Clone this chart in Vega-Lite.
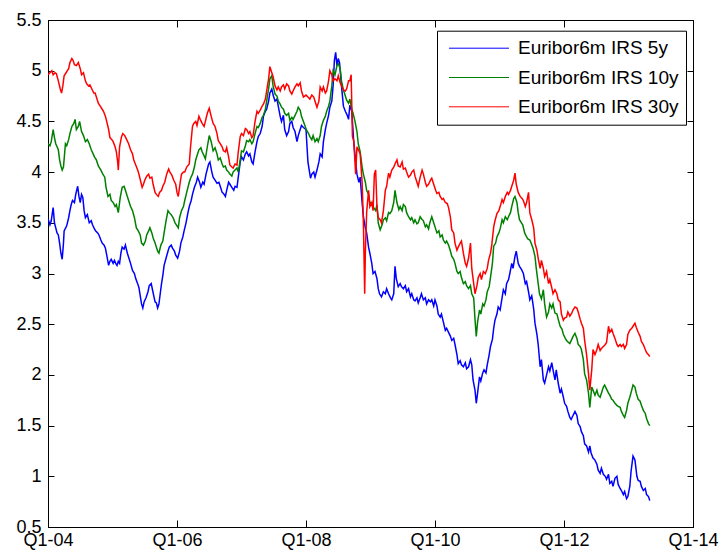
{
  "$schema": "https://vega.github.io/schema/vega-lite/v6.json",
  "width": 645,
  "height": 507,
  "autosize": {"type": "none"},
  "padding": {"left": 48, "top": 20, "right": 28, "bottom": 30},
  "background": "white",
  "config": {
    "view": {"stroke": "black", "strokeWidth": 1},
    "font": "Liberation Sans",
    "axis": {
      "grid": false,
      "domainColor": "black",
      "domainWidth": 1,
      "tickColor": "black",
      "tickWidth": 1,
      "labelColor": "black",
      "labelFont": "Liberation Sans",
      "labelFontSize": 18,
      "labelFlush": false,
      "labelOverlap": false
    }
  },
  "datasets": {
    "irs5": [
      {"t":2004.00,"v":3.54},{"t":2004.03,"v":3.48},{"t":2004.05,"v":3.52},{"t":2004.08,"v":3.65},{"t":2004.10,"v":3.5},{"t":2004.12,"v":3.45},{"t":2004.14,"v":3.4},{"t":2004.16,"v":3.38},{"t":2004.18,"v":3.3},{"t":2004.20,"v":3.2},{"t":2004.22,"v":3.14},{"t":2004.24,"v":3.3},{"t":2004.25,"v":3.42},{"t":2004.29,"v":3.47},{"t":2004.32,"v":3.55},{"t":2004.34,"v":3.62},{"t":2004.36,"v":3.68},{"t":2004.38,"v":3.72},{"t":2004.41,"v":3.7},{"t":2004.43,"v":3.78},{"t":2004.46,"v":3.86},{"t":2004.48,"v":3.76},{"t":2004.50,"v":3.7},{"t":2004.52,"v":3.78},{"t":2004.54,"v":3.75},{"t":2004.56,"v":3.62},{"t":2004.58,"v":3.55},{"t":2004.61,"v":3.58},{"t":2004.64,"v":3.5},{"t":2004.67,"v":3.52},{"t":2004.69,"v":3.48},{"t":2004.72,"v":3.44},{"t":2004.74,"v":3.42},{"t":2004.77,"v":3.4},{"t":2004.79,"v":3.38},{"t":2004.82,"v":3.33},{"t":2004.84,"v":3.3},{"t":2004.87,"v":3.28},{"t":2004.89,"v":3.25},{"t":2004.92,"v":3.15},{"t":2004.94,"v":3.08},{"t":2004.96,"v":3.12},{"t":2004.98,"v":3.14},
      {"t":2005.01,"v":3.1},{"t":2005.03,"v":3.13},{"t":2005.05,"v":3.1},{"t":2005.07,"v":3.08},{"t":2005.09,"v":3.12},{"t":2005.11,"v":3.1},{"t":2005.13,"v":3.2},{"t":2005.15,"v":3.26},{"t":2005.18,"v":3.24},{"t":2005.20,"v":3.28},{"t":2005.23,"v":3.2},{"t":2005.26,"v":3.14},{"t":2005.28,"v":3.1},{"t":2005.31,"v":3.03},{"t":2005.34,"v":3.0},{"t":2005.36,"v":2.95},{"t":2005.39,"v":2.9},{"t":2005.41,"v":2.86},{"t":2005.43,"v":2.78},{"t":2005.45,"v":2.7},{"t":2005.47,"v":2.66},{"t":2005.49,"v":2.72},{"t":2005.52,"v":2.76},{"t":2005.55,"v":2.82},{"t":2005.57,"v":2.88},{"t":2005.60,"v":2.9},{"t":2005.62,"v":2.84},{"t":2005.64,"v":2.78},{"t":2005.66,"v":2.72},{"t":2005.68,"v":2.71},{"t":2005.70,"v":2.66},{"t":2005.72,"v":2.7},{"t":2005.74,"v":2.8},{"t":2005.76,"v":2.9},{"t":2005.78,"v":2.98},{"t":2005.80,"v":3.08},{"t":2005.83,"v":3.15},{"t":2005.86,"v":3.22},{"t":2005.88,"v":3.26},{"t":2005.91,"v":3.28},{"t":2005.93,"v":3.25},{"t":2005.96,"v":3.22},{"t":2005.98,"v":3.18},
      {"t":2006.01,"v":3.15},{"t":2006.04,"v":3.22},{"t":2006.06,"v":3.3},{"t":2006.09,"v":3.36},{"t":2006.11,"v":3.42},{"t":2006.14,"v":3.5},{"t":2006.17,"v":3.6},{"t":2006.19,"v":3.66},{"t":2006.22,"v":3.72},{"t":2006.24,"v":3.78},{"t":2006.27,"v":3.85},{"t":2006.30,"v":3.9},{"t":2006.32,"v":3.95},{"t":2006.35,"v":3.9},{"t":2006.37,"v":3.85},{"t":2006.40,"v":3.9},{"t":2006.42,"v":3.88},{"t":2006.45,"v":3.98},{"t":2006.49,"v":4.08},{"t":2006.51,"v":4.1},{"t":2006.54,"v":4.0},{"t":2006.56,"v":3.95},{"t":2006.59,"v":3.92},{"t":2006.62,"v":3.89},{"t":2006.65,"v":3.9},{"t":2006.67,"v":3.86},{"t":2006.70,"v":3.8},{"t":2006.72,"v":3.79},{"t":2006.75,"v":3.76},{"t":2006.77,"v":3.82},{"t":2006.80,"v":3.9},{"t":2006.82,"v":3.88},{"t":2006.85,"v":3.85},{"t":2006.88,"v":3.82},{"t":2006.90,"v":3.86},{"t":2006.93,"v":3.85},{"t":2006.95,"v":3.95},{"t":2006.98,"v":4.1},
      {"t":2007.00,"v":4.15},{"t":2007.03,"v":4.12},{"t":2007.06,"v":4.18},{"t":2007.08,"v":4.2},{"t":2007.11,"v":4.16},{"t":2007.13,"v":4.18},{"t":2007.16,"v":4.1},{"t":2007.18,"v":4.08},{"t":2007.21,"v":4.2},{"t":2007.24,"v":4.3},{"t":2007.26,"v":4.35},{"t":2007.29,"v":4.38},{"t":2007.32,"v":4.45},{"t":2007.34,"v":4.55},{"t":2007.37,"v":4.6},{"t":2007.39,"v":4.62},{"t":2007.42,"v":4.7},{"t":2007.44,"v":4.78},{"t":2007.47,"v":4.82},{"t":2007.49,"v":4.76},{"t":2007.52,"v":4.7},{"t":2007.55,"v":4.72},{"t":2007.57,"v":4.65},{"t":2007.60,"v":4.55},{"t":2007.62,"v":4.5},{"t":2007.65,"v":4.56},{"t":2007.67,"v":4.42},{"t":2007.70,"v":4.36},{"t":2007.73,"v":4.4},{"t":2007.75,"v":4.48},{"t":2007.78,"v":4.5},{"t":2007.80,"v":4.44},{"t":2007.83,"v":4.4},{"t":2007.86,"v":4.3},{"t":2007.88,"v":4.36},{"t":2007.91,"v":4.42},{"t":2007.93,"v":4.46},{"t":2007.96,"v":4.44},
      {"t":2008.00,"v":4.42},{"t":2008.03,"v":4.1},{"t":2008.05,"v":4.02},{"t":2008.07,"v":3.94},{"t":2008.09,"v":3.98},{"t":2008.12,"v":4.0},{"t":2008.14,"v":3.95},{"t":2008.17,"v":4.02},{"t":2008.20,"v":4.1},{"t":2008.22,"v":4.18},{"t":2008.25,"v":4.15},{"t":2008.27,"v":4.3},{"t":2008.30,"v":4.42},{"t":2008.32,"v":4.48},{"t":2008.35,"v":4.56},{"t":2008.37,"v":4.64},{"t":2008.40,"v":4.7},{"t":2008.42,"v":4.85},{"t":2008.44,"v":5.1},{"t":2008.46,"v":5.18},{"t":2008.48,"v":5.05},{"t":2008.50,"v":5.12},{"t":2008.52,"v":5.08},{"t":2008.55,"v":4.85},{"t":2008.58,"v":4.65},{"t":2008.61,"v":4.6},{"t":2008.64,"v":4.56},{"t":2008.66,"v":4.52},{"t":2008.68,"v":4.66},{"t":2008.71,"v":4.6},{"t":2008.74,"v":4.3},{"t":2008.77,"v":4.1},{"t":2008.79,"v":3.98},{"t":2008.82,"v":3.9},{"t":2008.84,"v":3.95},{"t":2008.87,"v":3.7},{"t":2008.89,"v":3.56},{"t":2008.92,"v":3.45},{"t":2008.94,"v":3.4},{"t":2008.97,"v":3.26},{"t":2008.99,"v":3.2},
      {"t":2009.02,"v":3.1},{"t":2009.04,"v":3.0},{"t":2009.07,"v":3.02},{"t":2009.10,"v":2.95},{"t":2009.12,"v":2.85},{"t":2009.14,"v":2.8},{"t":2009.17,"v":2.77},{"t":2009.20,"v":2.82},{"t":2009.23,"v":2.8},{"t":2009.25,"v":2.85},{"t":2009.28,"v":2.8},{"t":2009.31,"v":2.76},{"t":2009.33,"v":2.74},{"t":2009.36,"v":2.8},{"t":2009.38,"v":3.07},{"t":2009.40,"v":2.95},{"t":2009.43,"v":2.87},{"t":2009.46,"v":2.9},{"t":2009.48,"v":2.87},{"t":2009.51,"v":2.85},{"t":2009.54,"v":2.88},{"t":2009.56,"v":2.82},{"t":2009.59,"v":2.85},{"t":2009.62,"v":2.77},{"t":2009.64,"v":2.8},{"t":2009.67,"v":2.74},{"t":2009.69,"v":2.73},{"t":2009.72,"v":2.76},{"t":2009.74,"v":2.71},{"t":2009.77,"v":2.76},{"t":2009.79,"v":2.8},{"t":2009.82,"v":2.74},{"t":2009.85,"v":2.76},{"t":2009.87,"v":2.7},{"t":2009.90,"v":2.74},{"t":2009.93,"v":2.72},{"t":2009.95,"v":2.74},{"t":2009.98,"v":2.68},
      {"t":2010.00,"v":2.74},{"t":2010.03,"v":2.68},{"t":2010.05,"v":2.6},{"t":2010.08,"v":2.57},{"t":2010.10,"v":2.6},{"t":2010.13,"v":2.52},{"t":2010.16,"v":2.44},{"t":2010.18,"v":2.46},{"t":2010.21,"v":2.42},{"t":2010.24,"v":2.38},{"t":2010.26,"v":2.34},{"t":2010.29,"v":2.36},{"t":2010.31,"v":2.3},{"t":2010.34,"v":2.2},{"t":2010.36,"v":2.11},{"t":2010.39,"v":2.14},{"t":2010.41,"v":2.1},{"t":2010.44,"v":2.08},{"t":2010.47,"v":2.12},{"t":2010.49,"v":2.06},{"t":2010.52,"v":2.08},{"t":2010.55,"v":2.15},{"t":2010.57,"v":2.1},{"t":2010.59,"v":1.95},{"t":2010.62,"v":1.85},{"t":2010.64,"v":1.72},{"t":2010.66,"v":1.82},{"t":2010.69,"v":1.98},{"t":2010.71,"v":1.94},{"t":2010.74,"v":2.02},{"t":2010.76,"v":2.05},{"t":2010.79,"v":2.02},{"t":2010.81,"v":2.1},{"t":2010.84,"v":2.2},{"t":2010.86,"v":2.28},{"t":2010.89,"v":2.35},{"t":2010.91,"v":2.46},{"t":2010.93,"v":2.54},{"t":2010.96,"v":2.6},{"t":2010.98,"v":2.67},
      {"t":2011.01,"v":2.64},{"t":2011.03,"v":2.72},{"t":2011.06,"v":2.84},{"t":2011.09,"v":2.8},{"t":2011.11,"v":2.9},{"t":2011.14,"v":2.94},{"t":2011.16,"v":3.0},{"t":2011.19,"v":3.1},{"t":2011.21,"v":3.05},{"t":2011.24,"v":3.17},{"t":2011.26,"v":3.22},{"t":2011.29,"v":3.1},{"t":2011.31,"v":3.07},{"t":2011.34,"v":3.04},{"t":2011.37,"v":3.0},{"t":2011.40,"v":2.9},{"t":2011.42,"v":2.92},{"t":2011.45,"v":2.82},{"t":2011.47,"v":2.74},{"t":2011.50,"v":2.78},{"t":2011.53,"v":2.65},{"t":2011.55,"v":2.51},{"t":2011.58,"v":2.4},{"t":2011.60,"v":2.3},{"t":2011.63,"v":2.08},{"t":2011.65,"v":2.15},{"t":2011.68,"v":1.95},{"t":2011.70,"v":1.92},{"t":2011.73,"v":2.0},{"t":2011.76,"v":2.08},{"t":2011.78,"v":2.04},{"t":2011.81,"v":2.12},{"t":2011.83,"v":2.05},{"t":2011.86,"v":1.95},{"t":2011.88,"v":2.05},{"t":2011.91,"v":1.92},{"t":2011.94,"v":1.82},{"t":2011.96,"v":1.86},{"t":2011.99,"v":1.78},
      {"t":2012.01,"v":1.72},{"t":2012.04,"v":1.69},{"t":2012.06,"v":1.64},{"t":2012.09,"v":1.58},{"t":2012.11,"v":1.56},{"t":2012.14,"v":1.6},{"t":2012.17,"v":1.64},{"t":2012.20,"v":1.6},{"t":2012.22,"v":1.52},{"t":2012.25,"v":1.49},{"t":2012.27,"v":1.44},{"t":2012.30,"v":1.4},{"t":2012.32,"v":1.32},{"t":2012.35,"v":1.3},{"t":2012.38,"v":1.24},{"t":2012.40,"v":1.3},{"t":2012.42,"v":1.23},{"t":2012.45,"v":1.18},{"t":2012.48,"v":1.16},{"t":2012.51,"v":1.12},{"t":2012.53,"v":1.06},{"t":2012.56,"v":1.03},{"t":2012.58,"v":1.08},{"t":2012.61,"v":1.02},{"t":2012.64,"v":1.0},{"t":2012.66,"v":0.97},{"t":2012.69,"v":1.02},{"t":2012.71,"v":0.93},{"t":2012.74,"v":0.95},{"t":2012.76,"v":0.9},{"t":2012.79,"v":0.98},{"t":2012.82,"v":1.0},{"t":2012.84,"v":0.92},{"t":2012.87,"v":0.88},{"t":2012.89,"v":0.86},{"t":2012.92,"v":0.82},{"t":2012.94,"v":0.85},{"t":2012.97,"v":0.78},{"t":2012.99,"v":0.8},
      {"t":2013.02,"v":0.9},{"t":2013.04,"v":1.05},{"t":2013.07,"v":1.2},{"t":2013.10,"v":1.16},{"t":2013.13,"v":1.0},{"t":2013.15,"v":0.96},{"t":2013.18,"v":0.95},{"t":2013.20,"v":0.9},{"t":2013.23,"v":0.86},{"t":2013.26,"v":0.88},{"t":2013.28,"v":0.82},{"t":2013.31,"v":0.8},{"t":2013.33,"v":0.76}
    ],
    "irs10": [
      {"t":2004.00,"v":4.28},{"t":2004.03,"v":4.26},{"t":2004.05,"v":4.3},{"t":2004.08,"v":4.42},{"t":2004.10,"v":4.34},{"t":2004.12,"v":4.28},{"t":2004.14,"v":4.25},{"t":2004.16,"v":4.22},{"t":2004.18,"v":4.12},{"t":2004.20,"v":4.06},{"t":2004.22,"v":4.02},{"t":2004.24,"v":4.05},{"t":2004.27,"v":4.28},{"t":2004.29,"v":4.26},{"t":2004.32,"v":4.32},{"t":2004.34,"v":4.38},{"t":2004.37,"v":4.45},{"t":2004.40,"v":4.48},{"t":2004.42,"v":4.52},{"t":2004.44,"v":4.42},{"t":2004.47,"v":4.45},{"t":2004.49,"v":4.5},{"t":2004.52,"v":4.4},{"t":2004.55,"v":4.36},{"t":2004.58,"v":4.3},{"t":2004.61,"v":4.32},{"t":2004.64,"v":4.28},{"t":2004.67,"v":4.22},{"t":2004.70,"v":4.18},{"t":2004.72,"v":4.15},{"t":2004.75,"v":4.12},{"t":2004.78,"v":4.06},{"t":2004.82,"v":4.02},{"t":2004.85,"v":3.98},{"t":2004.88,"v":3.95},{"t":2004.90,"v":3.85},{"t":2004.93,"v":3.76},{"t":2004.96,"v":3.78},{"t":2004.98,"v":3.72},
      {"t":2005.01,"v":3.7},{"t":2005.04,"v":3.66},{"t":2005.06,"v":3.68},{"t":2005.09,"v":3.6},{"t":2005.12,"v":3.75},{"t":2005.15,"v":3.85},{"t":2005.18,"v":3.86},{"t":2005.20,"v":3.82},{"t":2005.23,"v":3.76},{"t":2005.26,"v":3.7},{"t":2005.28,"v":3.66},{"t":2005.31,"v":3.62},{"t":2005.34,"v":3.55},{"t":2005.37,"v":3.45},{"t":2005.40,"v":3.42},{"t":2005.43,"v":3.38},{"t":2005.45,"v":3.3},{"t":2005.48,"v":3.28},{"t":2005.51,"v":3.32},{"t":2005.53,"v":3.38},{"t":2005.56,"v":3.42},{"t":2005.58,"v":3.45},{"t":2005.61,"v":3.4},{"t":2005.63,"v":3.35},{"t":2005.66,"v":3.3},{"t":2005.70,"v":3.22},{"t":2005.72,"v":3.2},{"t":2005.75,"v":3.28},{"t":2005.78,"v":3.32},{"t":2005.80,"v":3.4},{"t":2005.83,"v":3.52},{"t":2005.86,"v":3.62},{"t":2005.88,"v":3.6},{"t":2005.91,"v":3.58},{"t":2005.94,"v":3.55},{"t":2005.97,"v":3.5},{"t":2005.99,"v":3.48},
      {"t":2006.02,"v":3.45},{"t":2006.04,"v":3.55},{"t":2006.07,"v":3.62},{"t":2006.10,"v":3.66},{"t":2006.12,"v":3.72},{"t":2006.15,"v":3.8},{"t":2006.19,"v":3.9},{"t":2006.21,"v":3.94},{"t":2006.24,"v":3.98},{"t":2006.27,"v":4.05},{"t":2006.29,"v":4.12},{"t":2006.32,"v":4.18},{"t":2006.34,"v":4.22},{"t":2006.37,"v":4.24},{"t":2006.39,"v":4.2},{"t":2006.42,"v":4.16},{"t":2006.44,"v":4.13},{"t":2006.47,"v":4.25},{"t":2006.50,"v":4.36},{"t":2006.53,"v":4.3},{"t":2006.56,"v":4.21},{"t":2006.59,"v":4.24},{"t":2006.62,"v":4.18},{"t":2006.64,"v":4.12},{"t":2006.67,"v":4.14},{"t":2006.70,"v":4.08},{"t":2006.72,"v":4.05},{"t":2006.75,"v":4.06},{"t":2006.77,"v":4.02},{"t":2006.80,"v":4.0},{"t":2006.82,"v":3.98},{"t":2006.85,"v":3.96},{"t":2006.87,"v":4.0},{"t":2006.90,"v":4.02},{"t":2006.93,"v":4.04},{"t":2006.95,"v":4.0},{"t":2006.98,"v":4.12},
      {"t":2007.00,"v":4.21},{"t":2007.03,"v":4.2},{"t":2007.06,"v":4.26},{"t":2007.08,"v":4.31},{"t":2007.11,"v":4.3},{"t":2007.13,"v":4.32},{"t":2007.16,"v":4.28},{"t":2007.18,"v":4.3},{"t":2007.21,"v":4.38},{"t":2007.24,"v":4.45},{"t":2007.26,"v":4.44},{"t":2007.29,"v":4.48},{"t":2007.32,"v":4.54},{"t":2007.34,"v":4.56},{"t":2007.37,"v":4.62},{"t":2007.39,"v":4.7},{"t":2007.42,"v":4.82},{"t":2007.44,"v":4.92},{"t":2007.47,"v":4.95},{"t":2007.49,"v":4.85},{"t":2007.52,"v":4.77},{"t":2007.55,"v":4.75},{"t":2007.57,"v":4.7},{"t":2007.60,"v":4.67},{"t":2007.62,"v":4.64},{"t":2007.65,"v":4.62},{"t":2007.67,"v":4.58},{"t":2007.70,"v":4.56},{"t":2007.73,"v":4.58},{"t":2007.75,"v":4.51},{"t":2007.78,"v":4.54},{"t":2007.80,"v":4.52},{"t":2007.83,"v":4.56},{"t":2007.86,"v":4.6},{"t":2007.88,"v":4.64},{"t":2007.91,"v":4.61},{"t":2007.93,"v":4.55},{"t":2007.96,"v":4.5},
      {"t":2008.01,"v":4.41},{"t":2008.04,"v":4.38},{"t":2008.06,"v":4.35},{"t":2008.09,"v":4.32},{"t":2008.11,"v":4.36},{"t":2008.14,"v":4.3},{"t":2008.17,"v":4.33},{"t":2008.19,"v":4.3},{"t":2008.22,"v":4.36},{"t":2008.24,"v":4.45},{"t":2008.27,"v":4.51},{"t":2008.30,"v":4.55},{"t":2008.32,"v":4.6},{"t":2008.35,"v":4.65},{"t":2008.37,"v":4.7},{"t":2008.40,"v":4.85},{"t":2008.42,"v":5.0},{"t":2008.45,"v":4.96},{"t":2008.48,"v":5.05},{"t":2008.50,"v":5.07},{"t":2008.53,"v":5.02},{"t":2008.55,"v":4.9},{"t":2008.58,"v":4.81},{"t":2008.61,"v":4.75},{"t":2008.63,"v":4.71},{"t":2008.66,"v":4.68},{"t":2008.68,"v":4.72},{"t":2008.71,"v":4.62},{"t":2008.73,"v":4.58},{"t":2008.76,"v":4.5},{"t":2008.79,"v":4.4},{"t":2008.81,"v":4.28},{"t":2008.84,"v":4.2},{"t":2008.87,"v":4.05},{"t":2008.89,"v":3.98},{"t":2008.92,"v":3.9},{"t":2008.94,"v":3.82},{"t":2008.97,"v":3.78},{"t":2008.99,"v":3.7},
      {"t":2009.02,"v":3.69},{"t":2009.05,"v":3.65},{"t":2009.08,"v":3.62},{"t":2009.10,"v":3.68},{"t":2009.12,"v":3.5},{"t":2009.15,"v":3.43},{"t":2009.18,"v":3.48},{"t":2009.20,"v":3.53},{"t":2009.23,"v":3.55},{"t":2009.25,"v":3.52},{"t":2009.28,"v":3.6},{"t":2009.30,"v":3.59},{"t":2009.33,"v":3.62},{"t":2009.36,"v":3.7},{"t":2009.38,"v":3.82},{"t":2009.41,"v":3.7},{"t":2009.44,"v":3.63},{"t":2009.46,"v":3.66},{"t":2009.49,"v":3.62},{"t":2009.51,"v":3.68},{"t":2009.54,"v":3.66},{"t":2009.56,"v":3.6},{"t":2009.59,"v":3.56},{"t":2009.62,"v":3.53},{"t":2009.64,"v":3.55},{"t":2009.67,"v":3.5},{"t":2009.69,"v":3.53},{"t":2009.72,"v":3.49},{"t":2009.74,"v":3.5},{"t":2009.77,"v":3.56},{"t":2009.79,"v":3.54},{"t":2009.82,"v":3.52},{"t":2009.85,"v":3.46},{"t":2009.87,"v":3.48},{"t":2009.90,"v":3.44},{"t":2009.92,"v":3.5},{"t":2009.95,"v":3.56},{"t":2009.98,"v":3.5},
      {"t":2010.01,"v":3.44},{"t":2010.03,"v":3.4},{"t":2010.06,"v":3.42},{"t":2010.08,"v":3.36},{"t":2010.11,"v":3.38},{"t":2010.13,"v":3.33},{"t":2010.16,"v":3.3},{"t":2010.18,"v":3.32},{"t":2010.21,"v":3.28},{"t":2010.24,"v":3.22},{"t":2010.26,"v":3.17},{"t":2010.29,"v":3.14},{"t":2010.31,"v":3.1},{"t":2010.34,"v":3.02},{"t":2010.36,"v":3.0},{"t":2010.39,"v":3.02},{"t":2010.41,"v":2.96},{"t":2010.44,"v":2.9},{"t":2010.47,"v":2.92},{"t":2010.49,"v":2.88},{"t":2010.52,"v":2.85},{"t":2010.55,"v":2.88},{"t":2010.57,"v":2.8},{"t":2010.60,"v":2.76},{"t":2010.62,"v":2.55},{"t":2010.64,"v":2.38},{"t":2010.66,"v":2.52},{"t":2010.69,"v":2.64},{"t":2010.71,"v":2.6},{"t":2010.74,"v":2.7},{"t":2010.76,"v":2.68},{"t":2010.79,"v":2.74},{"t":2010.81,"v":2.82},{"t":2010.84,"v":2.87},{"t":2010.86,"v":2.96},{"t":2010.89,"v":3.1},{"t":2010.91,"v":3.27},{"t":2010.94,"v":3.3},{"t":2010.96,"v":3.36},{"t":2010.99,"v":3.4},
      {"t":2011.01,"v":3.44},{"t":2011.04,"v":3.53},{"t":2011.06,"v":3.5},{"t":2011.09,"v":3.56},{"t":2011.12,"v":3.53},{"t":2011.14,"v":3.56},{"t":2011.17,"v":3.6},{"t":2011.19,"v":3.66},{"t":2011.22,"v":3.74},{"t":2011.24,"v":3.76},{"t":2011.27,"v":3.7},{"t":2011.29,"v":3.6},{"t":2011.31,"v":3.53},{"t":2011.34,"v":3.5},{"t":2011.36,"v":3.48},{"t":2011.39,"v":3.4},{"t":2011.42,"v":3.36},{"t":2011.44,"v":3.34},{"t":2011.47,"v":3.33},{"t":2011.49,"v":3.3},{"t":2011.52,"v":3.25},{"t":2011.55,"v":3.17},{"t":2011.57,"v":3.05},{"t":2011.60,"v":2.9},{"t":2011.62,"v":2.8},{"t":2011.65,"v":2.75},{"t":2011.68,"v":2.84},{"t":2011.70,"v":2.7},{"t":2011.73,"v":2.57},{"t":2011.76,"v":2.62},{"t":2011.78,"v":2.7},{"t":2011.81,"v":2.66},{"t":2011.83,"v":2.7},{"t":2011.86,"v":2.61},{"t":2011.89,"v":2.6},{"t":2011.91,"v":2.55},{"t":2011.94,"v":2.48},{"t":2011.97,"v":2.45},{"t":2011.99,"v":2.4},
      {"t":2012.02,"v":2.36},{"t":2012.04,"v":2.34},{"t":2012.07,"v":2.32},{"t":2012.09,"v":2.31},{"t":2012.12,"v":2.35},{"t":2012.14,"v":2.38},{"t":2012.17,"v":2.41},{"t":2012.20,"v":2.36},{"t":2012.22,"v":2.3},{"t":2012.25,"v":2.28},{"t":2012.27,"v":2.25},{"t":2012.30,"v":2.15},{"t":2012.32,"v":2.01},{"t":2012.35,"v":1.95},{"t":2012.38,"v":1.82},{"t":2012.40,"v":1.68},{"t":2012.43,"v":1.88},{"t":2012.45,"v":1.85},{"t":2012.48,"v":1.8},{"t":2012.51,"v":1.85},{"t":2012.53,"v":1.8},{"t":2012.56,"v":1.78},{"t":2012.58,"v":1.82},{"t":2012.61,"v":1.88},{"t":2012.63,"v":1.9},{"t":2012.66,"v":1.86},{"t":2012.69,"v":1.82},{"t":2012.71,"v":1.8},{"t":2012.74,"v":1.76},{"t":2012.76,"v":1.75},{"t":2012.79,"v":1.72},{"t":2012.82,"v":1.7},{"t":2012.84,"v":1.69},{"t":2012.87,"v":1.68},{"t":2012.89,"v":1.64},{"t":2012.92,"v":1.6},{"t":2012.94,"v":1.58},{"t":2012.97,"v":1.65},{"t":2012.99,"v":1.72},
      {"t":2013.02,"v":1.78},{"t":2013.05,"v":1.85},{"t":2013.07,"v":1.9},{"t":2013.10,"v":1.88},{"t":2013.12,"v":1.82},{"t":2013.15,"v":1.76},{"t":2013.18,"v":1.74},{"t":2013.20,"v":1.7},{"t":2013.23,"v":1.65},{"t":2013.26,"v":1.62},{"t":2013.28,"v":1.57},{"t":2013.31,"v":1.52},{"t":2013.33,"v":1.5}
    ],
    "irs30": [
      {"t":2004.00,"v":4.96},{"t":2004.03,"v":4.98},{"t":2004.06,"v":5.0},{"t":2004.08,"v":4.96},{"t":2004.11,"v":4.98},{"t":2004.13,"v":4.97},{"t":2004.16,"v":4.9},{"t":2004.19,"v":4.82},{"t":2004.21,"v":4.78},{"t":2004.23,"v":4.85},{"t":2004.25,"v":4.95},{"t":2004.28,"v":4.98},{"t":2004.30,"v":5.0},{"t":2004.32,"v":5.02},{"t":2004.34,"v":5.08},{"t":2004.37,"v":5.12},{"t":2004.39,"v":5.1},{"t":2004.41,"v":5.06},{"t":2004.44,"v":5.05},{"t":2004.47,"v":5.08},{"t":2004.50,"v":5.02},{"t":2004.52,"v":4.96},{"t":2004.55,"v":4.98},{"t":2004.58,"v":4.9},{"t":2004.60,"v":4.87},{"t":2004.63,"v":4.85},{"t":2004.65,"v":4.86},{"t":2004.68,"v":4.82},{"t":2004.71,"v":4.78},{"t":2004.73,"v":4.78},{"t":2004.76,"v":4.72},{"t":2004.78,"v":4.68},{"t":2004.81,"v":4.65},{"t":2004.84,"v":4.62},{"t":2004.86,"v":4.6},{"t":2004.89,"v":4.55},{"t":2004.91,"v":4.5},{"t":2004.94,"v":4.42},{"t":2004.96,"v":4.34},{"t":2004.99,"v":4.32},
      {"t":2005.01,"v":4.3},{"t":2005.04,"v":4.25},{"t":2005.06,"v":4.2},{"t":2005.08,"v":4.1},{"t":2005.09,"v":4.02},{"t":2005.11,"v":4.25},{"t":2005.14,"v":4.35},{"t":2005.16,"v":4.38},{"t":2005.19,"v":4.36},{"t":2005.22,"v":4.32},{"t":2005.25,"v":4.28},{"t":2005.28,"v":4.22},{"t":2005.31,"v":4.18},{"t":2005.33,"v":4.12},{"t":2005.36,"v":4.07},{"t":2005.39,"v":4.02},{"t":2005.41,"v":3.98},{"t":2005.44,"v":3.9},{"t":2005.46,"v":3.85},{"t":2005.48,"v":3.88},{"t":2005.50,"v":3.92},{"t":2005.53,"v":3.96},{"t":2005.56,"v":3.98},{"t":2005.58,"v":3.94},{"t":2005.61,"v":3.95},{"t":2005.63,"v":3.88},{"t":2005.66,"v":3.8},{"t":2005.68,"v":3.78},{"t":2005.71,"v":3.76},{"t":2005.73,"v":3.8},{"t":2005.76,"v":3.82},{"t":2005.78,"v":3.86},{"t":2005.81,"v":3.9},{"t":2005.84,"v":3.98},{"t":2005.87,"v":4.03},{"t":2005.89,"v":4.0},{"t":2005.92,"v":3.97},{"t":2005.95,"v":3.92},{"t":2005.98,"v":3.88},
      {"t":2006.00,"v":3.8},{"t":2006.02,"v":3.76},{"t":2006.05,"v":3.9},{"t":2006.07,"v":3.98},{"t":2006.10,"v":4.0},{"t":2006.12,"v":4.0},{"t":2006.15,"v":4.05},{"t":2006.19,"v":4.08},{"t":2006.21,"v":4.25},{"t":2006.24,"v":4.45},{"t":2006.26,"v":4.48},{"t":2006.29,"v":4.5},{"t":2006.31,"v":4.46},{"t":2006.34,"v":4.55},{"t":2006.36,"v":4.52},{"t":2006.39,"v":4.48},{"t":2006.42,"v":4.45},{"t":2006.44,"v":4.5},{"t":2006.47,"v":4.58},{"t":2006.50,"v":4.63},{"t":2006.53,"v":4.55},{"t":2006.56,"v":4.48},{"t":2006.59,"v":4.45},{"t":2006.62,"v":4.38},{"t":2006.64,"v":4.31},{"t":2006.67,"v":4.28},{"t":2006.70,"v":4.25},{"t":2006.72,"v":4.21},{"t":2006.75,"v":4.2},{"t":2006.77,"v":4.24},{"t":2006.80,"v":4.15},{"t":2006.82,"v":4.07},{"t":2006.85,"v":4.05},{"t":2006.87,"v":4.04},{"t":2006.90,"v":4.08},{"t":2006.93,"v":4.07},{"t":2006.95,"v":4.2},{"t":2006.98,"v":4.35},
      {"t":2007.00,"v":4.38},{"t":2007.03,"v":4.36},{"t":2007.06,"v":4.43},{"t":2007.08,"v":4.42},{"t":2007.11,"v":4.38},{"t":2007.13,"v":4.4},{"t":2007.16,"v":4.34},{"t":2007.18,"v":4.36},{"t":2007.21,"v":4.5},{"t":2007.24,"v":4.6},{"t":2007.26,"v":4.58},{"t":2007.29,"v":4.61},{"t":2007.32,"v":4.65},{"t":2007.34,"v":4.67},{"t":2007.37,"v":4.72},{"t":2007.39,"v":4.8},{"t":2007.42,"v":4.92},{"t":2007.44,"v":5.04},{"t":2007.47,"v":4.98},{"t":2007.49,"v":4.94},{"t":2007.52,"v":4.85},{"t":2007.55,"v":4.81},{"t":2007.57,"v":4.84},{"t":2007.60,"v":4.8},{"t":2007.62,"v":4.84},{"t":2007.65,"v":4.86},{"t":2007.67,"v":4.82},{"t":2007.70,"v":4.87},{"t":2007.73,"v":4.85},{"t":2007.75,"v":4.8},{"t":2007.78,"v":4.77},{"t":2007.80,"v":4.8},{"t":2007.83,"v":4.84},{"t":2007.86,"v":4.87},{"t":2007.88,"v":4.85},{"t":2007.91,"v":4.88},{"t":2007.93,"v":4.8},{"t":2007.96,"v":4.74},
      {"t":2008.00,"v":4.76},{"t":2008.03,"v":4.74},{"t":2008.06,"v":4.72},{"t":2008.09,"v":4.76},{"t":2008.12,"v":4.74},{"t":2008.15,"v":4.68},{"t":2008.17,"v":4.64},{"t":2008.20,"v":4.7},{"t":2008.22,"v":4.84},{"t":2008.25,"v":4.8},{"t":2008.27,"v":4.84},{"t":2008.30,"v":4.78},{"t":2008.32,"v":4.8},{"t":2008.35,"v":4.9},{"t":2008.37,"v":5.0},{"t":2008.40,"v":4.96},{"t":2008.42,"v":4.9},{"t":2008.45,"v":4.92},{"t":2008.48,"v":4.9},{"t":2008.50,"v":4.95},{"t":2008.53,"v":4.88},{"t":2008.55,"v":4.85},{"t":2008.58,"v":4.81},{"t":2008.61,"v":4.8},{"t":2008.63,"v":4.82},{"t":2008.66,"v":4.9},{"t":2008.68,"v":4.9},{"t":2008.70,"v":4.96},{"t":2008.72,"v":4.35},{"t":2008.74,"v":4.31},{"t":2008.77,"v":3.98},{"t":2008.79,"v":4.25},{"t":2008.82,"v":4.21},{"t":2008.84,"v":4.18},{"t":2008.87,"v":3.9},{"t":2008.89,"v":3.5},{"t":2008.91,"v":2.8},{"t":2008.92,"v":3.2},{"t":2008.94,"v":3.6},{"t":2008.97,"v":3.82},{"t":2008.99,"v":3.66},
      {"t":2009.02,"v":3.7},{"t":2009.04,"v":3.62},{"t":2009.06,"v":3.98},{"t":2009.08,"v":4.02},{"t":2009.10,"v":3.66},{"t":2009.12,"v":3.55},{"t":2009.15,"v":3.53},{"t":2009.17,"v":3.5},{"t":2009.20,"v":3.62},{"t":2009.23,"v":3.82},{"t":2009.25,"v":3.86},{"t":2009.28,"v":3.99},{"t":2009.30,"v":3.95},{"t":2009.33,"v":4.02},{"t":2009.36,"v":4.05},{"t":2009.38,"v":4.08},{"t":2009.41,"v":4.12},{"t":2009.43,"v":4.06},{"t":2009.46,"v":4.05},{"t":2009.49,"v":4.1},{"t":2009.51,"v":4.03},{"t":2009.54,"v":4.04},{"t":2009.56,"v":4.0},{"t":2009.59,"v":3.95},{"t":2009.62,"v":3.97},{"t":2009.64,"v":4.0},{"t":2009.67,"v":4.02},{"t":2009.69,"v":3.96},{"t":2009.72,"v":3.9},{"t":2009.74,"v":3.86},{"t":2009.77,"v":3.95},{"t":2009.80,"v":4.02},{"t":2009.82,"v":3.98},{"t":2009.85,"v":3.9},{"t":2009.87,"v":3.86},{"t":2009.90,"v":3.88},{"t":2009.93,"v":3.92},{"t":2009.95,"v":3.94},{"t":2009.98,"v":3.88},
      {"t":2010.01,"v":3.82},{"t":2010.03,"v":3.79},{"t":2010.06,"v":3.8},{"t":2010.08,"v":3.76},{"t":2010.11,"v":3.73},{"t":2010.13,"v":3.74},{"t":2010.16,"v":3.7},{"t":2010.19,"v":3.69},{"t":2010.21,"v":3.65},{"t":2010.24,"v":3.55},{"t":2010.26,"v":3.43},{"t":2010.29,"v":3.4},{"t":2010.31,"v":3.3},{"t":2010.34,"v":3.23},{"t":2010.36,"v":3.26},{"t":2010.39,"v":3.3},{"t":2010.41,"v":3.32},{"t":2010.44,"v":3.2},{"t":2010.47,"v":3.1},{"t":2010.49,"v":3.07},{"t":2010.52,"v":3.15},{"t":2010.55,"v":3.3},{"t":2010.57,"v":3.05},{"t":2010.60,"v":2.9},{"t":2010.62,"v":2.8},{"t":2010.65,"v":2.88},{"t":2010.67,"v":2.96},{"t":2010.70,"v":3.0},{"t":2010.72,"v":2.94},{"t":2010.75,"v":3.02},{"t":2010.78,"v":3.0},{"t":2010.81,"v":3.05},{"t":2010.83,"v":3.13},{"t":2010.86,"v":3.2},{"t":2010.88,"v":3.28},{"t":2010.91,"v":3.46},{"t":2010.93,"v":3.52},{"t":2010.96,"v":3.59},{"t":2010.99,"v":3.62},
      {"t":2011.01,"v":3.66},{"t":2011.04,"v":3.73},{"t":2011.06,"v":3.7},{"t":2011.09,"v":3.76},{"t":2011.12,"v":3.8},{"t":2011.14,"v":3.78},{"t":2011.17,"v":3.82},{"t":2011.19,"v":3.86},{"t":2011.22,"v":3.92},{"t":2011.24,"v":3.99},{"t":2011.26,"v":3.88},{"t":2011.29,"v":3.8},{"t":2011.32,"v":3.76},{"t":2011.35,"v":3.74},{"t":2011.37,"v":3.72},{"t":2011.40,"v":3.66},{"t":2011.42,"v":3.7},{"t":2011.45,"v":3.8},{"t":2011.47,"v":3.6},{"t":2011.50,"v":3.53},{"t":2011.53,"v":3.45},{"t":2011.55,"v":3.3},{"t":2011.58,"v":3.23},{"t":2011.60,"v":3.15},{"t":2011.63,"v":3.05},{"t":2011.65,"v":3.13},{"t":2011.68,"v":3.05},{"t":2011.70,"v":2.97},{"t":2011.73,"v":3.02},{"t":2011.76,"v":2.9},{"t":2011.78,"v":2.94},{"t":2011.81,"v":2.86},{"t":2011.83,"v":2.8},{"t":2011.86,"v":2.84},{"t":2011.89,"v":2.8},{"t":2011.91,"v":2.74},{"t":2011.94,"v":2.72},{"t":2011.96,"v":2.6},{"t":2011.99,"v":2.54},
      {"t":2012.01,"v":2.56},{"t":2012.04,"v":2.57},{"t":2012.06,"v":2.62},{"t":2012.09,"v":2.58},{"t":2012.12,"v":2.61},{"t":2012.14,"v":2.64},{"t":2012.17,"v":2.67},{"t":2012.20,"v":2.66},{"t":2012.22,"v":2.62},{"t":2012.25,"v":2.55},{"t":2012.27,"v":2.51},{"t":2012.30,"v":2.46},{"t":2012.32,"v":2.34},{"t":2012.35,"v":2.2},{"t":2012.38,"v":2.01},{"t":2012.40,"v":1.85},{"t":2012.43,"v":2.05},{"t":2012.45,"v":2.25},{"t":2012.48,"v":2.2},{"t":2012.51,"v":2.25},{"t":2012.53,"v":2.3},{"t":2012.56,"v":2.24},{"t":2012.58,"v":2.26},{"t":2012.61,"v":2.28},{"t":2012.64,"v":2.3},{"t":2012.66,"v":2.32},{"t":2012.69,"v":2.48},{"t":2012.71,"v":2.42},{"t":2012.74,"v":2.45},{"t":2012.76,"v":2.41},{"t":2012.79,"v":2.36},{"t":2012.82,"v":2.3},{"t":2012.84,"v":2.28},{"t":2012.87,"v":2.3},{"t":2012.89,"v":2.28},{"t":2012.92,"v":2.3},{"t":2012.94,"v":2.26},{"t":2012.97,"v":2.3},{"t":2012.99,"v":2.4},
      {"t":2013.02,"v":2.44},{"t":2013.05,"v":2.46},{"t":2013.07,"v":2.48},{"t":2013.10,"v":2.51},{"t":2013.12,"v":2.47},{"t":2013.15,"v":2.42},{"t":2013.18,"v":2.38},{"t":2013.20,"v":2.33},{"t":2013.23,"v":2.3},{"t":2013.26,"v":2.25},{"t":2013.28,"v":2.22},{"t":2013.31,"v":2.2},{"t":2013.33,"v":2.18}
    ]
  },
  "layer": [
    {
      "data": {"name": "irs5"},
      "mark": {"type": "line", "strokeWidth": 1.5, "clip": true},
      "encoding": {
        "x": {
          "field": "t", "type": "quantitative",
          "scale": {"domain": [2004, 2014], "nice": false, "zero": false},
          "axis": {
            "orient": "bottom", "title": null,
            "values": [2004, 2006, 2008, 2010, 2012, 2014],
            "labelExpr": "'Q1-' + substring(toString(datum.value), 2, 4)",
            "tickSize": -7, "labelPadding": 11
          }
        },
        "y": {
          "field": "v", "type": "quantitative",
          "scale": {"domain": [0.5, 5.5], "nice": false, "zero": false},
          "axis": {
            "orient": "left", "title": null,
            "values": [0.5, 1, 1.5, 2, 2.5, 3, 3.5, 4, 4.5, 5, 5.5],
            "format": "~g",
            "tickSize": -6, "labelPadding": 13
          }
        },
        "color": {
          "datum": "Euribor6m IRS 5y",
          "type": "nominal",
          "scale": {
            "domain": ["Euribor6m IRS 5y", "Euribor6m IRS 10y", "Euribor6m IRS 30y"],
            "range": ["#0000ff", "#008000", "#ff0000"]
          },
          "legend": {
            "title": null,
            "orient": "none",
            "legendX": 389,
            "legendY": 10.7,
            "direction": "vertical",
            "symbolType": "M-3,0H3",
            "symbolSize": 400,
            "symbolStrokeWidth": 1,
            "symbolOffset": 24.5,
            "labelOffset": 28.5,
            "labelFont": "Liberation Sans",
            "labelFontSize": 19,
            "labelColor": "black",
            "labelLimit": 400,
            "rowPadding": 8.3,
            "padding": 7,
            "strokeColor": "black",
            "fillColor": "white",
            "cornerRadius": 0
          }
        }
      }
    },
    {
      "data": {"name": "irs10"},
      "mark": {"type": "line", "strokeWidth": 1.5, "clip": true},
      "encoding": {
        "x": {
          "field": "t", "type": "quantitative",
          "axis": {
            "orient": "top", "title": null,
            "values": [2004, 2006, 2008, 2010, 2012, 2014],
            "labels": false, "tickSize": -7
          }
        },
        "y": {
          "field": "v", "type": "quantitative",
          "axis": {
            "orient": "right", "title": null,
            "values": [0.5, 1, 1.5, 2, 2.5, 3, 3.5, 4, 4.5, 5, 5.5],
            "labels": false, "tickSize": -6
          }
        },
        "color": {"datum": "Euribor6m IRS 10y", "type": "nominal"}
      }
    },
    {
      "data": {"name": "irs30"},
      "mark": {"type": "line", "strokeWidth": 1.5, "clip": true},
      "encoding": {
        "x": {"field": "t", "type": "quantitative", "axis": null},
        "y": {"field": "v", "type": "quantitative", "axis": null},
        "color": {"datum": "Euribor6m IRS 30y", "type": "nominal"}
      }
    }
  ],
  "resolve": {"axis": {"x": "independent", "y": "independent"}}
}
